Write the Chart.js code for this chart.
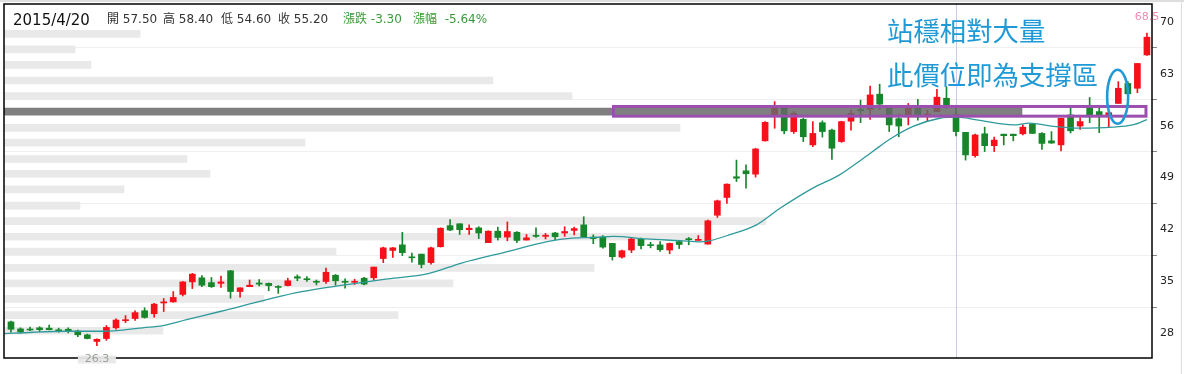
<!DOCTYPE html>
<html>
<head>
<meta charset="utf-8">
<script src="https://cdn.jsdelivr.net/npm/chart.js@4.4.1/dist/chart.umd.min.js"></script>
<style>
  html, body { margin: 0; padding: 0; background: #fff; }
  #wrap { position: relative; width: 1184px; height: 374px; overflow: hidden; }
  #wrap canvas { position: absolute; left: 0; top: 0; }
  .edge-top { position: absolute; left: 0; top: 0; width: 1184px; height: 2px; background: #dedede; }
  .edge-right { position: absolute; left: 1181px; top: 0; width: 1px; height: 374px; background: #dedede; }
  .hd { position: absolute; top: 11px; font-family: "DejaVu Sans", "Noto Sans CJK TC", sans-serif; font-size: 12px; line-height: 16px; color: #333; white-space: nowrap; }
  .hd.date { font-size: 15px; line-height: 18px; top: 11px; color: #111; }
  .hd.chg { color: #3a9a3a; }
  .note { position: absolute; left: 887px; font-family: "Noto Sans CJK TC", sans-serif; font-size: 26.4px; line-height: 26px; color: #1f9ad6; white-space: nowrap; }
</style>
</head>
<body>
<div id="wrap">
  <canvas id="kChart" width="1184" height="374"></canvas>
  <div class="edge-top"></div>
  <div class="edge-right"></div>
  <span class="hd date" id="hdDate" style="left:13px"></span>
  <span class="hd" id="hdOpen" style="left:107px"></span>
  <span class="hd" id="hdHigh" style="left:163px"></span>
  <span class="hd" id="hdLow" style="left:221px"></span>
  <span class="hd" id="hdClose" style="left:278px"></span>
  <span class="hd chg" id="hdChg" style="left:343px"></span>
  <span class="hd chg" id="hdPct" style="left:413px"></span>
  <span class="note" style="top:17px">站穩相對大量</span>
  <span class="note" style="top:61px">此價位即為支撐區</span>
</div>
<script>
// daily candles, oldest first
const opens = [29.5, 28.55, 28.5, 28.7, 28.65, 28.4, 28.5, 28.25, 27.75, 26.85,
  27.25, 28.7, 29.65, 29.95, 31.0, 30.6, 32.05, 32.2, 33.2, 34.9,
  35.45, 34.8, 34.7, 36.4, 33.6, 34.25, 34.75, 34.7, 34.25, 34.4,
  35.6, 35.3, 34.95, 34.95, 35.8, 34.95, 34.85, 35.4, 35.45, 38.05,
  39.15, 39.9, 38.25, 38.65, 37.5, 39.65, 42.5, 42.75, 41.95, 42.2,
  40.2, 41.75, 40.95, 41.6, 40.55, 41.2, 41.05, 41.5, 41.5, 41.85,
  42.6, 40.95, 40.95, 40.1, 38.25, 39.2, 40.65, 39.9, 39.9, 39.2,
  40.35, 40.7, 40.5, 40.0, 43.9, 46.3, 49.1, 49.9, 49.45, 53.95,
  57.45, 58.35, 55.2, 56.85, 53.4, 56.4, 55.4, 53.85, 56.6, 58.2,
  58.2, 60.25, 58.5, 56.95, 57.2, 58.35, 57.3, 57.9, 59.7, 57.5,
  55.1, 51.95, 54.9, 53.3, 54.85, 54.85, 54.9, 56.2, 54.95, 53.95,
  53.4, 57.45, 55.95, 58.55, 57.9, 57.3, 59.0, 61.7, 61.05, 65.55];
const highs = [29.6, 28.7, 28.8, 28.85, 29.05, 28.65, 28.7, 28.4, 27.85, 27.2,
  29.0, 29.9, 30.35, 31.0, 31.4, 32.0, 32.65, 33.6, 34.95, 36.05,
  35.75, 35.5, 35.7, 36.45, 34.1, 35.15, 35.2, 34.75, 34.4, 35.4,
  35.85, 35.6, 35.15, 36.75, 35.9, 35.3, 35.25, 35.5, 36.9, 39.6,
  39.55, 41.6, 38.8, 38.65, 39.6, 42.2, 43.3, 42.75, 42.6, 42.35,
  41.8, 42.3, 43.0, 41.7, 41.3, 42.2, 41.45, 41.6, 42.35, 42.3,
  43.7, 41.25, 41.15, 40.1, 39.2, 40.9, 40.8, 40.25, 40.35, 40.15,
  40.45, 40.9, 41.15, 43.25, 45.95, 48.15, 51.35, 50.7, 52.95, 56.55,
  59.25, 58.35, 57.9, 57.0, 56.55, 56.65, 55.55, 56.6, 58.1, 59.45,
  61.35, 61.6, 58.5, 57.55, 59.0, 59.55, 58.1, 60.9, 61.25, 58.4,
  55.1, 54.85, 55.8, 54.45, 54.85, 54.85, 56.1, 56.3, 55.05, 55.2,
  57.0, 58.55, 57.1, 59.8, 58.55, 57.8, 61.95, 61.95, 64.4, 68.5];
const lows = [28.1, 28.0, 28.3, 28.2, 28.4, 28.1, 28.0, 27.5, 27.2, 26.3,
  27.0, 28.5, 29.4, 29.7, 30.0, 30.15, 30.9, 32.15, 33.0, 34.0,
  34.25, 34.15, 34.15, 32.7, 32.85, 34.25, 34.35, 33.7, 33.35, 34.35,
  35.05, 34.95, 34.5, 34.7, 34.45, 34.05, 34.55, 34.5, 35.15, 37.5,
  38.2, 38.45, 37.55, 36.8, 37.3, 39.6, 41.8, 41.3, 41.3, 40.75,
  40.2, 40.55, 40.45, 40.2, 40.55, 40.9, 40.7, 40.6, 41.05, 41.25,
  41.0, 40.05, 39.45, 37.85, 38.1, 38.85, 39.35, 39.5, 39.0, 38.7,
  39.4, 39.9, 40.5, 40.0, 43.6, 45.5, 48.45, 47.55, 49.05, 53.9,
  55.65, 54.9, 54.95, 53.85, 53.15, 54.45, 51.45, 53.75, 55.4, 56.4,
  56.85, 58.2, 55.2, 54.5, 56.1, 56.75, 56.55, 57.9, 58.35, 54.6,
  51.35, 51.75, 52.5, 52.5, 53.4, 53.95, 54.75, 54.95, 52.8, 53.6,
  52.6, 55.0, 55.5, 56.4, 55.05, 55.85, 59.0, 60.15, 60.45, 65.5];
const closes = [28.5, 28.15, 28.4, 28.45, 28.45, 28.3, 28.2, 27.75, 27.25, 27.15,
  28.75, 29.75, 29.8, 30.75, 30.1, 31.9, 32.2, 32.8, 34.9, 35.95,
  34.45, 34.25, 34.9, 33.6, 34.1, 34.45, 34.6, 34.4, 34.15, 35.05,
  35.4, 35.2, 34.85, 36.2, 35.05, 34.85, 34.95, 34.6, 36.9, 39.5,
  39.5, 38.85, 38.15, 37.25, 39.5, 42.15, 41.9, 41.95, 42.15, 41.5,
  41.75, 40.9, 41.7, 40.5, 40.85, 41.05, 41.2, 41.0, 41.7, 42.1,
  41.0, 40.75, 39.6, 38.3, 39.1, 40.7, 39.8, 39.8, 39.25, 40.1,
  39.95, 40.6, 40.65, 43.15, 45.85, 48.1, 48.9, 49.5, 52.85, 56.45,
  58.55, 55.3, 57.65, 54.5, 54.95, 55.2, 52.95, 56.55, 57.65, 58.0,
  60.15, 58.9, 56.1, 55.95, 58.5, 57.2, 57.55, 59.85, 58.5, 55.2,
  52.05, 54.75, 53.3, 54.05, 54.65, 54.65, 55.8, 54.95, 53.6, 53.65,
  57.0, 55.3, 56.55, 57.2, 57.3, 57.75, 61.05, 60.3, 64.4, 67.95];

// moving average, read at points along the curve (x = candle index)
const maIdx = [-0.7, 2.3, 5.9, 9.3, 11.4, 13.8, 15.9, 18.4, 21.9, 26.8, 30.3, 35, 39.5, 43.7,
  47.2, 51.7, 56.3, 58.8, 61.2, 63.1, 66.6, 70.1, 72.2, 73.2, 75.3, 78.1, 80.6, 84, 86.8,
  89.3, 91, 92.1, 94.5, 97.3, 99.1, 101.5, 105, 106.7, 109.2, 112, 115.4, 117.5, 119];
const maVal = [27.9, 28.1, 28.23, 28.23, 28.36, 28.7, 29.0, 29.8, 30.9, 32.5, 33.55, 34.5, 35.3, 36.0,
  37.45, 38.9, 40.37, 40.8, 40.9, 41.04, 40.7, 40.46, 40.3, 40.46, 41.27, 42.6, 44.87, 47.57, 49.36,
  51.6, 53.2, 54.2, 55.9, 57.0, 57.15, 56.7, 56.1, 56.34, 55.9, 55.66, 55.8, 56.1, 56.8];

// volume by price
const profilePrice = [68.4, 66.3, 64.2, 62.1, 60.0, 57.9, 55.7, 53.7, 51.5, 49.5,
  47.4, 45.2, 43.1, 41.0, 39.0, 36.8, 34.7, 32.6, 30.4, 28.3];
const profileVol = [136, 71, 87, 489, 568, 1018, 676, 301, 183, 206,
  120, 76, 762, 701, 332, 590, 449, 260, 394, 159];

const yTicks = [28, 35, 42, 49, 56, 63, 70];
const hoverIdx = 99;
const hoverDate = '2015/4/20';

// support zone box and the circled candle (data units)
const zoneFrom = 63.12, zoneTo = 118.9, zoneTop = 58.59, zoneBottom = 57.28;
const ringX = 115.93, ringY = 59.91, ringRx = 1.1, ringRy = 3.65;

const RED = '#f5101a';
const GREEN = '#17862a';

// header
const prevClose = closes[hoverIdx - 1];
const chg = closes[hoverIdx] - prevClose;
document.getElementById('hdDate').textContent = hoverDate;
document.getElementById('hdOpen').textContent = '開 ' + opens[hoverIdx].toFixed(2);
document.getElementById('hdHigh').textContent = '高 ' + highs[hoverIdx].toFixed(2);
document.getElementById('hdLow').textContent = '低 ' + lows[hoverIdx].toFixed(2);
document.getElementById('hdClose').textContent = '收 ' + closes[hoverIdx].toFixed(2);
document.getElementById('hdChg').textContent = '漲跌 ' + chg.toFixed(2);
document.getElementById('hdPct').textContent = '漲幅\u00a0\u00a0' + (chg / prevClose * 100).toFixed(2) + '%';

const idx = opens.map((_, i) => i);
const candleColor = i => closes[i] >= opens[i] ? RED : GREEN;
const maxVol = Math.max(...profileVol);
const lightRows = profileVol.map((v, i) => ({ x: v, y: profilePrice[i] })).filter(r => r.x !== maxVol);
const darkRows = profileVol.map((v, i) => ({ x: v, y: profilePrice[i] })).filter(r => r.x === maxVol);

let loIdx = 0, hiIdx = 0;
lows.forEach((v, i) => { if (v < lows[loIdx]) loIdx = i; });
highs.forEach((v, i) => { if (v > highs[hiIdx]) hiIdx = i; });

const overlay = {
  id: 'overlay',
  beforeDatasetsDraw(chart) {
    const { ctx, chartArea: a, scales: { x } } = chart;
    const cx = Math.round(x.getPixelForValue(hoverIdx)) + 0.5;
    ctx.save();
    ctx.strokeStyle = '#cbcbe8';
    ctx.lineWidth = 1;
    ctx.beginPath();
    ctx.moveTo(cx, a.top);
    ctx.lineTo(cx, a.bottom);
    ctx.stroke();
    ctx.restore();
  },
  afterDatasetsDraw(chart) {
    const { ctx, chartArea: a, scales: { x, y } } = chart;
    ctx.save();

    // support zone
    const bx0 = x.getPixelForValue(zoneFrom), bx1 = x.getPixelForValue(zoneTo);
    const by0 = y.getPixelForValue(zoneTop), by1 = y.getPixelForValue(zoneBottom);
    ctx.strokeStyle = '#9b4fae';
    ctx.lineWidth = 3;
    ctx.strokeRect(bx0, by0, bx1 - bx0, by1 - by0);

    // circled candle
    const ex = x.getPixelForValue(ringX), ey = y.getPixelForValue(ringY);
    const erx = x.getPixelForValue(ringX + ringRx) - ex;
    const ery = ey - y.getPixelForValue(ringY + ringRy);
    ctx.strokeStyle = '#1f9ad6';
    ctx.lineWidth = 2.6;
    ctx.beginPath();
    ctx.ellipse(ex, ey, erx, ery, 0, 0, Math.PI * 2);
    ctx.stroke();

    // frame
    ctx.strokeStyle = '#000';
    ctx.lineWidth = 1.5;
    ctx.strokeRect(a.left, a.top, a.right - a.left, a.bottom - a.top);

    // high / low marks
    ctx.font = '11px "DejaVu Sans"';
    ctx.textAlign = 'center';
    ctx.textBaseline = 'middle';
    const lx = x.getPixelForValue(loIdx);
    ctx.fillStyle = 'rgba(232,232,232,0.95)';
    ctx.fillRect(lx - 19, 355.5, 38, 8);
    ctx.fillStyle = '#9aa49a';
    ctx.fillText(lows[loIdx].toFixed(1), lx, 359.5);
    ctx.fillStyle = '#f08cb4';
    ctx.fillText(highs[hiIdx].toFixed(1), x.getPixelForValue(hiIdx), 17.5);
    ctx.restore();
  }
};

new Chart(document.getElementById('kChart'), {
  type: 'bar',
  data: {
    datasets: [
      {
        label: 'volDark', indexAxis: 'y', xAxisID: 'xv', yAxisID: 'y',
        data: darkRows, backgroundColor: 'rgba(105,105,105,0.85)',
        barThickness: 7, grouped: false, order: 0
      },
      {
        label: 'MA', type: 'line', xAxisID: 'x', yAxisID: 'y',
        data: maIdx.map((v, i) => ({ x: v, y: maVal[i] })),
        borderColor: '#2f9a9c', borderWidth: 1.3, pointRadius: 0,
        cubicInterpolationMode: 'monotone', fill: false, order: 1
      },
      {
        label: 'body', xAxisID: 'x', yAxisID: 'y',
        data: idx.map(i => ({ x: i, y: [opens[i], closes[i]] })),
        backgroundColor: ctx => candleColor(ctx.dataIndex),
        barThickness: 6, minBarLength: 1, grouped: false, order: 2
      },
      {
        label: 'wick', xAxisID: 'x', yAxisID: 'y',
        data: idx.map(i => ({ x: i, y: [lows[i], highs[i]] })),
        backgroundColor: ctx => candleColor(ctx.dataIndex),
        barThickness: 1, grouped: false, order: 3
      },
      {
        label: 'volLight', indexAxis: 'y', xAxisID: 'xv', yAxisID: 'y',
        data: lightRows, backgroundColor: '#e9e9e9',
        barThickness: 7, grouped: false, order: 4
      }
    ]
  },
  options: {
    responsive: false,
    animation: false,
    devicePixelRatio: 1,
    layout: { padding: { left: 4, top: 4, right: 0, bottom: 16 } },
    plugins: { legend: { display: false }, tooltip: { enabled: false } },
    scales: {
      x: { type: 'linear', min: -0.73, max: 119.53, display: false, offset: false },
      xv: { type: 'linear', axis: 'x', min: 0, max: 1148, display: false, offset: false },
      y: {
        type: 'linear', position: 'right', min: 24.62, max: 72.43, offset: false,
        afterBuildTicks: s => { s.ticks = yTicks.map(v => ({ value: v })); },
        afterFit: s => { s.width = 32; s.paddingTop = 0; s.paddingBottom = 0; },
        border: { display: false },
        grid: { color: '#efefef', tickColor: '#8a8a8a', tickLength: 5 },
        ticks: { color: '#222', padding: 3, font: { family: 'DejaVu Sans', size: 11 } }
      }
    }
  },
  plugins: [overlay]
});
</script>
</body>
</html>
